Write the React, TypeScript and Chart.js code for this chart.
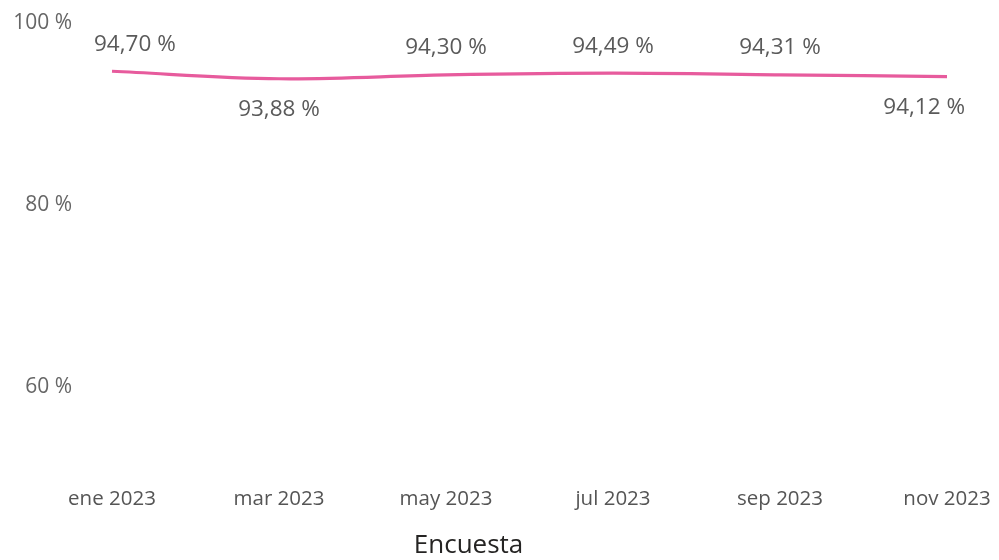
import React, { useEffect, useRef } from "react";
import { Chart, registerables } from "chart.js";

Chart.register(...registerables);

const categories = ["ene 2023", "mar 2023", "may 2023", "jul 2023", "sep 2023", "nov 2023"];
const values = [94.7, 93.88, 94.3, 94.49, 94.31, 94.12];
const labelPlacement = ["above", "below", "above", "above", "above", "below"];
const yTicks = [60, 80, 100];
const xAxisTitle = "Encuesta";

const FONT = "'Open Sans', 'Noto Sans', sans-serif";

const fmt = (v: number) => v.toFixed(2).replace(".", ",") + " %";

const dataLabelPlugin = {
  id: "dataLabels",
  afterDatasetsDraw(chart: any) {
    const { ctx, chartArea } = chart;
    const meta = chart.getDatasetMeta(0);
    ctx.save();
    ctx.font = `22.5px ${FONT}`;
    ctx.fillStyle = "#5a5a5a";
    ctx.textAlign = "center";
    ctx.textBaseline = "middle";
    meta.data.forEach((pt: any, i: number) => {
      const text = fmt(values[i]);
      const w = ctx.measureText(text).width;
      const margin = 18;
      let x = pt.x;
      x = Math.max(x, chartArea.left - margin + w / 2);
      x = Math.min(x, chartArea.right + margin - w / 2);
      const y = labelPlacement[i] === "above" ? pt.y - 27 : pt.y + 31;
      ctx.fillText(text, x, y);
    });
    ctx.restore();
  },
};

const axisTitlePlugin = {
  id: "axisTitle",
  afterDraw(chart: any) {
    const { ctx } = chart;
    ctx.save();
    ctx.font = `26px ${FONT}`;
    ctx.fillStyle = "#252423";
    ctx.textAlign = "center";
    ctx.textBaseline = "middle";
    ctx.fillText(xAxisTitle, chart.width * 0.469, chart.height - 14);
    ctx.restore();
  },
};

export default function App() {
  const ref = useRef<HTMLCanvasElement | null>(null);
  useEffect(() => {
    if (!ref.current) return;
    const chart = new Chart(ref.current, {
      type: "line",
      data: {
        labels: categories,
        datasets: [
          {
            data: values,
            borderColor: "#e75b9d",
            borderWidth: 3.2,
            pointRadius: 0,
            tension: 0.35,
            fill: false,
          },
        ],
      },
      options: {
        animation: false,
        responsive: true,
        maintainAspectRatio: false,
        layout: { padding: { top: 23, right: 52, bottom: 41, left: 0 } },
        plugins: { legend: { display: false }, tooltip: { enabled: false } },
        scales: {
          x: {
            type: "category",
            offset: false,
            grid: { display: false, drawTicks: false },
            border: { display: false },
            ticks: {
              padding: 8,
              color: "#555555",
              font: { family: FONT, size: 20.5 },
              maxRotation: 0,
              autoSkip: false,
            },
          },
          y: {
            min: 50,
            max: 100,
            grid: { display: false, drawTicks: false },
            border: { display: false },
            afterFit: (s: any) => {
              s.width = 112;
              s.paddingTop = 12;
              s.paddingBottom = 12;
            },
            afterBuildTicks: (s: any) => {
              s.ticks = yTicks.map((v) => ({ value: v }));
            },
            ticks: {
              padding: 40,
              color: "#666666",
              font: { family: FONT, size: 21 },
              callback: (v: any) => v + " %",
            },
          },
        },
      },
      plugins: [dataLabelPlugin, axisTitlePlugin],
    });
    return () => chart.destroy();
  }, []);
  return (
    <div style={{ position: "absolute", left: 0, top: 0, width: 999, height: 560, background: "#fff" }}>
      <canvas ref={ref} />
    </div>
  );
}
